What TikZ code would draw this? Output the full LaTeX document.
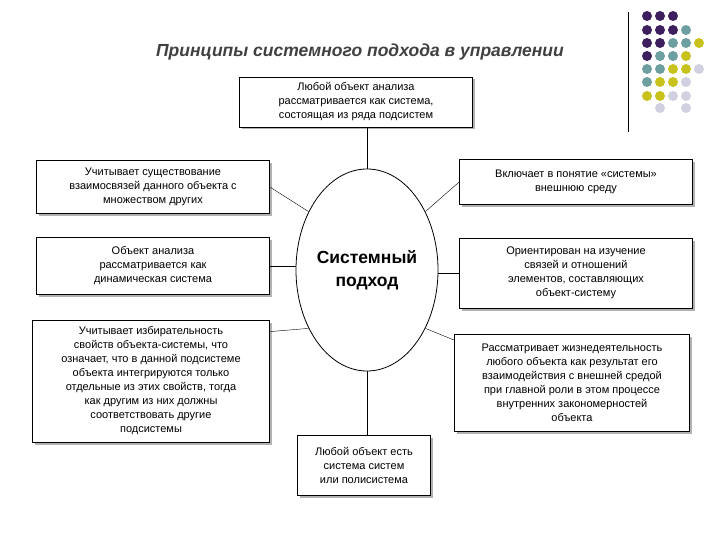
\documentclass[tikz,border=0pt]{standalone}
\usepackage{fontspec}
\setmainfont{Liberation Sans}
\usetikzlibrary{shapes.geometric,shadows}
\begin{document}
\begin{tikzpicture}[x=1pt,y=-1pt,
 box/.style={draw,fill=white,thick,align=center,font=\fontsize{11}{14}\selectfont,inner sep=2pt,drop shadow={shadow xshift=2.5pt,shadow yshift=-2.5pt,fill=gray!60,opacity=1}},
 ln/.style={draw,thin}]
\useasboundingbox (0,0) rectangle (720,540);
\definecolor{dp}{HTML}{3D1F5E}\definecolor{dt}{HTML}{6E9FA0}\definecolor{dy}{HTML}{C8C21C}\definecolor{dl}{HTML}{D0D0E0}
\node[font=\fontsize{17.5}{20}\selectfont\bfseries\itshape,text=black!75] (title) at (360,52) {Принципы системного подхода в управлении};
\draw[thick] (628,12) -- (628,132);
\foreach \r/\list in {16/{p,p,p},30/{p,p,p,t},43/{p,p,t,t,y},56/{p,t,t,y},69/{t,t,y,y,l},82/{t,y,y,l},96/{y,y,l,l}}{
 \foreach \c [count=\i] in \list {\fill[d\c] (634+13*\i,\r) circle (5);}}
\fill[dl] (660,108) circle (5); \fill[dl] (686,108) circle (5);
\node[draw,thick,ellipse,inner sep=0pt,minimum width=126,minimum height=202,font=\fontsize{17.5}{23}\selectfont\bfseries,align=center] (c) at (367,270) {Системный\\подход};
\node[box,minimum width=233,minimum height=50] (t) at (356,102) {Любой объект анализа\\рассматривается как система,\\состоящая из ряда подсистем};
\node[box,minimum width=233,minimum height=53] (l1) at (153,187) {Учитывает существование\\взаимосвязей данного объекта с\\множеством других};
\node[box,minimum width=233,minimum height=45] (r1) at (576,182) {Включает в понятие «системы»\\внешнюю среду};
\node[box,minimum width=233,minimum height=57] (l2) at (153,266) {Объект анализа\\рассматривается как\\динамическая система};
\node[box,minimum width=233,minimum height=70] (r2) at (576,273) {Ориентирован на изучение\\связей и отношений\\элементов, составляющих\\объект-систему};
\node[box,minimum width=237,minimum height=122] (l3) at (151,381) {Учитывает избирательность\\свойств объекта-системы, что\\означает, что в данной подсистеме\\объекта интегрируются только\\отдельные из этих свойств, тогда\\как другим из них должны\\соответствовать другие\\подсистемы};
\node[box,minimum width=235,minimum height=97] (r3) at (572,383) {Рассматривает жизнедеятельность\\любого объекта как результат его\\взаимодействия с внешней средой\\при главной роли в этом процессе\\внутренних закономерностей\\объекта};
\node[box,minimum width=133,minimum height=60] (b) at (364,465) {Любой объект есть\\система систем\\или полисистема};
\draw[ln] (t.south -| c.north) -- (c.north);
\draw[ln] (l1.east) -- (c.135);
\draw[ln] (r1.west) -- (c.45);
\draw[ln] (l2.east) -- (l2.east -| c.west);
\draw[ln] (r2.west) -- (r2.west -| c.east);
\draw[ln] (l3.north east) ++(0,12) coordinate (l3a) -- (c.225);
\draw[ln] (r3.north west) ++(0,6) coordinate (r3a) -- (c.-45);
\draw[ln] (c.south) -- (b.north -| c.south);
\end{tikzpicture}
\end{document}
